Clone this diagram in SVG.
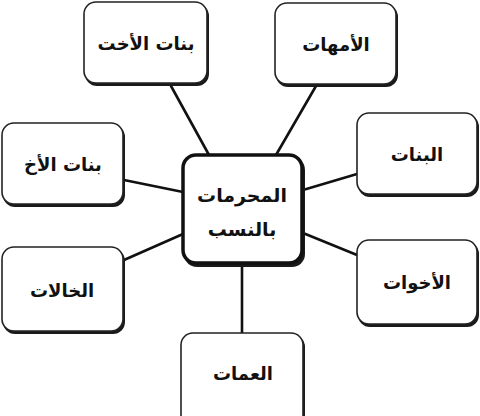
<svg xmlns="http://www.w3.org/2000/svg" width="480" height="416" viewBox="0 0 480 416">
<style>
.sh{fill:#1a1a1a;}
.box{fill:#fff;stroke:#222;stroke-width:1.6;}
.cbox{fill:#fff;stroke:#111;stroke-width:3.5;}
.lbl{font-family:"DejaVu Sans",sans-serif;font-weight:bold;font-size:18px;fill:#111;text-anchor:middle;dominant-baseline:central;}
.cn{stroke:#111;stroke-width:2.6;fill:none;stroke-linecap:round;}
</style>
<rect width="480" height="416" fill="#fff"/>
<g id="connectors">
<line class="cn" x1="171" y1="86" x2="209" y2="155"/>
<line class="cn" x1="316" y1="86" x2="276" y2="155"/>
<line class="cn" x1="124" y1="180" x2="183" y2="192"/>
<line class="cn" x1="303" y1="190" x2="357" y2="174"/>
<line class="cn" x1="124" y1="260" x2="183" y2="234"/>
<line class="cn" x1="303" y1="233" x2="357" y2="255"/>
<line class="cn" x1="242" y1="264" x2="242" y2="333"/>
</g>
<g id="n-banat-alukht">
<rect class="sh" x="85" y="4" width="124" height="82" rx="12"/>
<rect class="box" x="84" y="2" width="123" height="81" rx="12"/>
<text class="lbl" x="146" y="43">بنات الأخت</text>
</g>
<g id="n-ummahat">
<rect class="sh" x="276" y="5" width="122" height="82" rx="12"/>
<rect class="box" x="275" y="3" width="121" height="81" rx="12"/>
<text class="lbl" x="336" y="44">الأمهات</text>
</g>
<g id="n-banat">
<rect class="sh" x="358" y="115" width="121" height="82" rx="12"/>
<rect class="box" x="357" y="113" width="120" height="81" rx="12"/>
<text class="lbl" x="417" y="154">البنات</text>
</g>
<g id="n-banat-alakh">
<rect class="sh" x="3" y="125" width="122" height="82" rx="12"/>
<rect class="box" x="2" y="123" width="121" height="81" rx="12"/>
<text class="lbl" x="63" y="164">بنات الأخ</text>
</g>
<g id="n-center">
<rect class="sh" x="184" y="157" width="121" height="110" rx="13"/>
<rect class="cbox" x="183" y="155" width="119" height="108" rx="13"/>
<text class="lbl" x="242" y="195" style="font-size:19px">المحرمات</text>
<text class="lbl" x="242" y="229" style="font-size:19px">بالنسب</text>
</g>
<g id="n-khalat">
<rect class="sh" x="3" y="249" width="122" height="85" rx="12"/>
<rect class="box" x="2" y="247" width="121" height="84" rx="12"/>
<text class="lbl" x="62" y="290">الخالات</text>
</g>
<g id="n-akhawat">
<rect class="sh" x="358" y="242" width="121" height="85" rx="12"/>
<rect class="box" x="357" y="240" width="120" height="84" rx="12"/>
<text class="lbl" x="417" y="282">الأخوات</text>
</g>
<g id="n-ammat">
<rect class="sh" x="182" y="335" width="123" height="95" rx="12"/>
<rect class="box" x="181" y="333" width="122" height="94" rx="12"/>
<text class="lbl" x="243" y="373">العمات</text>
</g>
</svg>
